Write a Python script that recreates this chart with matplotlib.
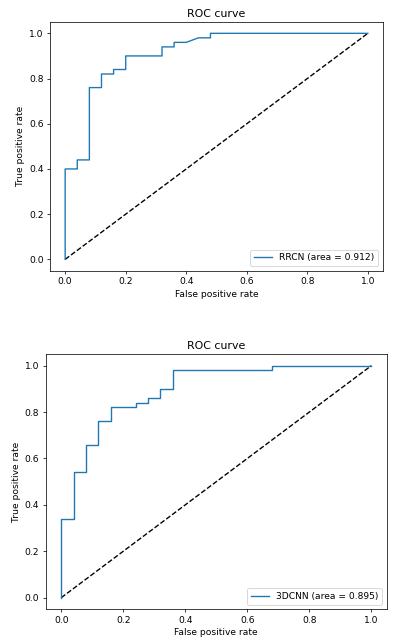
import matplotlib
matplotlib.use("Agg")
import matplotlib.pyplot as plt

# ROC points
fpr_rrcn = [0.0, 0.0, 0.04, 0.04, 0.08, 0.08, 0.12, 0.12, 0.16, 0.16, 0.20, 0.20,
            0.32, 0.32, 0.36, 0.36, 0.40, 0.44, 0.48, 0.48, 1.0]
tpr_rrcn = [0.0, 0.40, 0.40, 0.44, 0.44, 0.76, 0.76, 0.82, 0.82, 0.84, 0.84, 0.90,
            0.90, 0.94, 0.94, 0.96, 0.96, 0.98, 0.98, 1.0, 1.0]
auc_rrcn = 0.912

fpr_3d = [0.0, 0.0, 0.04, 0.04, 0.08, 0.08, 0.12, 0.12, 0.16, 0.16, 0.24, 0.24,
          0.28, 0.28, 0.32, 0.32, 0.36, 0.36, 0.68, 0.68, 1.0]
tpr_3d = [0.0, 0.34, 0.34, 0.54, 0.54, 0.66, 0.66, 0.76, 0.76, 0.82, 0.82, 0.84,
          0.84, 0.86, 0.86, 0.90, 0.90, 0.98, 0.98, 1.0, 1.0]
auc_3d = 0.895

DPI = 66


def roc_plot(ax, fpr, tpr, name, auc):
    ax.plot([0, 1], [0, 1], 'k--')
    ax.plot(fpr, tpr, label='{} (area = {:.3f})'.format(name, auc))
    ax.set_xlabel('False positive rate')
    ax.set_ylabel('True positive rate')
    ax.set_title('ROC curve')
    ax.legend(loc='lower right')


fig = plt.figure(figsize=(394 / DPI, 644 / DPI), dpi=DPI)
ax1 = fig.add_axes([0.127, 0.5797, 0.845, 0.3861])
ax2 = fig.add_axes([0.116, 0.0539, 0.866, 0.3964])

roc_plot(ax1, fpr_rrcn, tpr_rrcn, 'RRCN', auc_rrcn)
roc_plot(ax2, fpr_3d, tpr_3d, '3DCNN', auc_3d)

fig.savefig('out.png', dpi=DPI)
